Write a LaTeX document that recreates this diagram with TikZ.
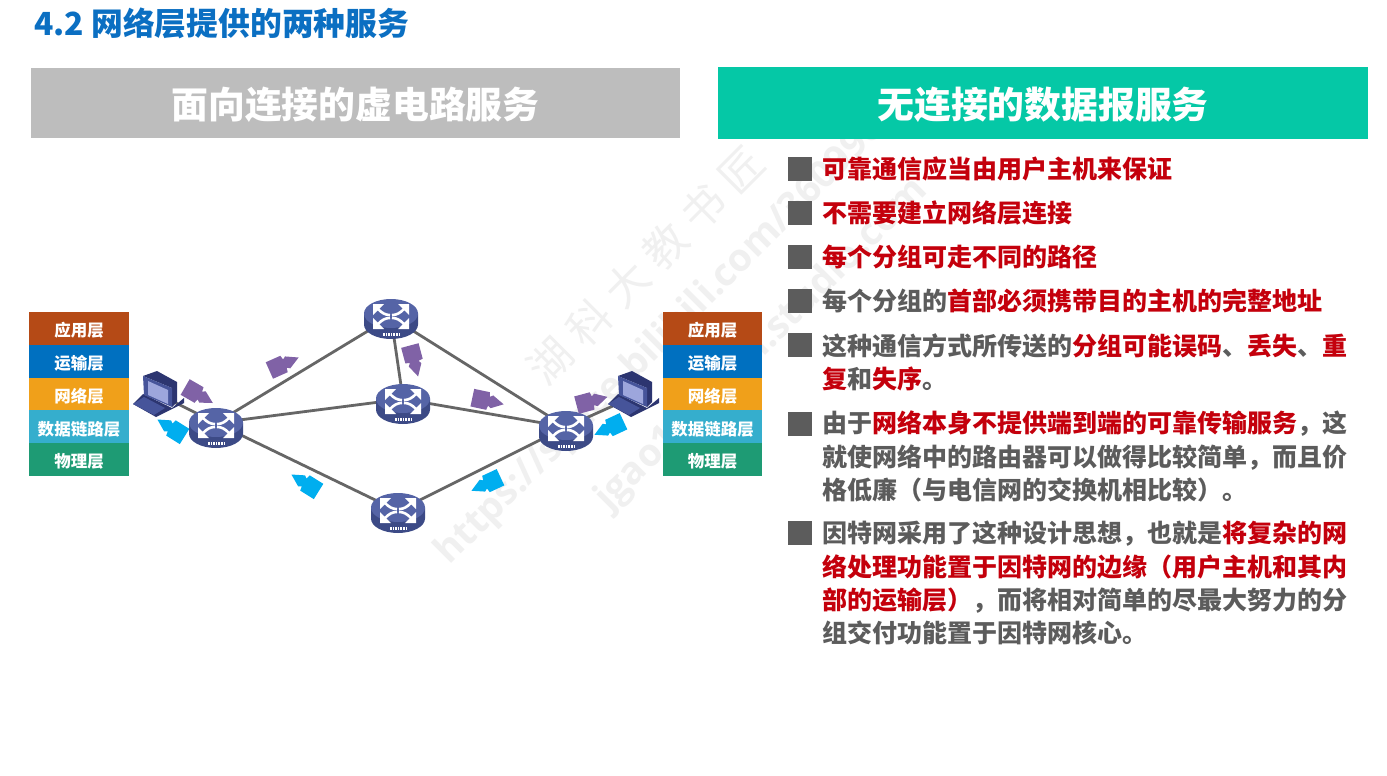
\documentclass[tikz,border=0pt]{standalone}
\usepackage{fontspec}
\setmainfont{Noto Sans CJK SC}
\newfontfamily\latinf{Open Sans}
\usetikzlibrary{calc,shapes.geometric}
\definecolor{titleblue}{HTML}{0B6FC2}
\definecolor{greybar}{HTML}{BDBDBD}
\definecolor{tealbar}{HTML}{05C8A6}
\definecolor{bodygrey}{HTML}{5C5C5C}
\definecolor{hotred}{HTML}{C4000C}
\definecolor{lA}{HTML}{B54A16}
\definecolor{lB}{HTML}{0070C0}
\definecolor{lC}{HTML}{F0A01A}
\definecolor{lD}{HTML}{35AECD}
\definecolor{lE}{HTML}{1E9B74}
\definecolor{routerT}{HTML}{5564A6}
\definecolor{routerS}{HTML}{3C4A86}
\definecolor{arrowP}{HTML}{8062A6}
\definecolor{arrowB}{HTML}{00AEEF}
\definecolor{linkg}{HTML}{666666}
\definecolor{pcdark}{HTML}{2C3570}
\definecolor{pcmid}{HTML}{46549A}
\definecolor{pcscr}{HTML}{9DA6DC}
\definecolor{wmgrey}{HTML}{F0F0F0}
\newcommand{\hot}[1]{\textcolor{hotred}{\textbf{#1}}}
\tikzset{
 x=1pt,y=-1pt,
 hdr/.style={minimum height=71pt,inner sep=0pt,text=white,text height=36pt,text depth=4.4pt,font=\fontsize{36.8}{36.8}\selectfont\bfseries,anchor=center},
 lay/.style={minimum width=99.5pt,minimum height=32.8pt,inner sep=0pt,text=white,text height=18.5pt,text depth=2pt,font=\fontsize{16.5}{16.5}\selectfont\bfseries,anchor=center},
 blt/.style={fill=bodygrey,minimum size=24pt,inner sep=0pt},
 bodyt/.style={anchor=north west,inner sep=0pt,text=bodygrey,font=\fontsize{25}{33.3}\selectfont\bfseries,align=left},
 link/.style={draw=linkg,line width=2.8pt},
 wm/.style={text=wmgrey,rotate=45,inner sep=0pt},
 joint/.style={minimum size=1pt,inner sep=0pt},
}
\newcommand{\cornerarrow}[1]{%
 \begin{scope}[#1]
  \fill[white] (18,-12.5) -- (18,-1.5) -- (7,-12.5) -- cycle;
  \draw[white,line width=2.6pt] (13,-7.5) .. controls (9,-3.5) and (6,-1.6) .. (1,-1.4);
 \end{scope}}
\newcommand{\routerx}[3]{%
 \node[ellipse,minimum width=54pt,minimum height=40pt,inner sep=0pt] (#1) at (#2,#3) {};
 \begin{scope}[shift={(#2,#3)}]
  \fill[routerS] (-27,-5.5) -- (-27,5.5) .. controls (-27,13.5) and (-15,20) .. (0,20) .. controls (15,20) and (27,13.5) .. (27,5.5) -- (27,-5.5) -- cycle;
  \fill[routerT] (0,-5.5) ellipse[x radius=27,y radius=14.5];
  \begin{scope}[yshift=2.5pt]
   \cornerarrow{}
   \cornerarrow{xscale=-1}
   \cornerarrow{yscale=-1}
   \cornerarrow{xscale=-1,yscale=-1}
  \end{scope}
  \draw[white,line width=2.4pt,dash pattern=on 1.6pt off 1pt] (-8,15.5) -- (8,15.5);
 \end{scope}}
\newcommand{\pcx}[2]{%
 \coordinate (#1) at (#2,0);
 \begin{scope}[xshift=#2 pt]
  \fill[pcdark] (143,394) -- (172,408) -- (184,398) -- (184,403) -- (156,417) -- (133,404) -- cycle;
  \fill[pcmid] (133,404) -- (144,397) -- (165,408) -- (154,415) -- cycle;
  \fill[pcdark] (143,376) -- (157,371) -- (177,382) -- (177,402) -- (172,407) -- (172,388) -- cycle;
  \fill[pcmid] (143,376) -- (172,388) -- (172,407) -- (144,395) -- cycle;
  \fill[pcscr] (148,381) -- (168,390) -- (168,404) -- (148,395) -- cycle;
 \end{scope}}
\newcommand{\pktx}[5]{%
 \coordinate (#1) at (#3,#4);
 \fill[#2,shift={(#3,#4)},rotate=#5] (-16,-9) -- (0,-9) -- (1,-4.5) -- (4,-6.5) -- (16,0) -- (4,6.5) -- (1,4.5) -- (0,9) -- (-16,9) -- cycle;}
\begin{document}
\begin{tikzpicture}
\useasboundingbox (0,0) rectangle (1387,776);
\fill[white] (0,0) rectangle (1387,776);
\node[wm,font=\fontsize{43}{43}\selectfont] (w1) at (646,265) {湖\hskip11pt科\hskip11pt大\hskip11pt教\hskip11pt书\hskip11pt匠};
\node[wm,font=\latinf\fontsize{38}{38}\selectfont\bfseries] (w2) at (684,318) {https://space.bilibili.com/360996402};
\node[wm,font=\latinf\fontsize{38}{38}\selectfont\bfseries] (w3) at (762,345) {jgao1.bilibili.studio.com};
\node[anchor=west,inner sep=0pt,text=titleblue,font=\fontsize{31.8}{31.8}\selectfont\bfseries] (title) at (34,23) {4.2 网络层提供的两种服务};
\node[hdr,fill=greybar,minimum width=649pt,minimum height=70pt] (hl) at (355.5,103) {面向连接的虚电路服务};
\node[hdr,fill=tealbar,minimum width=650pt,minimum height=72pt] (hr) at (1043,103) {无连接的数据报服务};
\foreach \n/\t/\c/\y in {a/应用层/lA/328.4,b/运输层/lB/361.2,c/网络层/lC/394,d/数据链路层/lD/426.8,e/物理层/lE/459.6}{
 \node[lay,fill=\c] (L\n) at (79,\y) {\t};
 \node[lay,fill=\c] (R\n) at (712.5,\y) {\t};
}
\node[joint] (r1) at (216,423) {};
\node[joint] (r2) at (391,317) {};
\node[joint] (r3) at (403,399) {};
\node[joint] (r4) at (566,427) {};
\node[joint] (r5) at (398,511) {};
\coordinate (pL) at (170,400);
\coordinate (pR) at (615,405);
\draw[link] (pL) -- (r1);
\draw[link] (pR) -- (r4);
\draw[link] (r1) -- (r2);
\draw[link] (r1) -- (r3);
\draw[link] (r1) -- (r5);
\draw[link] (r2) -- (r3);
\draw[link] (r2) -- (r4);
\draw[link] (r3) -- (r4);
\draw[link] (r5) -- (r4);
\routerx{R1}{216}{428}
\routerx{R2}{391}{319}
\routerx{R3}{403}{404}
\routerx{R4}{566}{431}
\routerx{R5}{398}{513}
\pcx{P1}{0}
\pcx{P2}{475}
\pktx{a1}{arrowP}{199}{395}{-30}
\pktx{a2}{arrowP}{284}{364}{24}
\pktx{a3}{arrowP}{414}{361}{-75}
\pktx{a4}{arrowP}{488}{401}{-12}
\pktx{a5}{arrowP}{592}{401}{15}
\pktx{b1}{arrowB}{171}{428}{148}
\pktx{b2}{arrowB}{305}{483}{148}
\pktx{b3}{arrowB}{486}{484}{205}
\pktx{b4}{arrowB}{609}{428}{205}
\foreach \n/\y in {1/169,2/213,3/257,4/301,5/345,6/423.5,7/533}{
 \node[blt] (B\n) at (799.5,\y) {};
}
\node[bodyt] (t1) at (822,157) {\hot{可靠通信应当由用户主机来保证}};
\node[bodyt] (t2) at (822,201) {\hot{不需要建立网络层连接}};
\node[bodyt] (t3) at (822,245) {\hot{每个分组可走不同的路径}};
\node[bodyt] (t4) at (822,289) {每个分组的\hot{首部必须携带目的主机的完整地址}};
\node[bodyt] (t5) at (822,333) {这种通信方式所传送的\hot{分组可能误码}、\hot{丢失}、\hot{重}\\\hot{复}和\hot{失序}。};
\node[bodyt] (t6) at (822,411) {由于\hot{网络本身不提供端到端的可靠传输服务}，这\\就使网络中的路由器可以做得比较简单，而且价\\格低廉（与电信网的交换机相比较）。};
\node[bodyt] (t7) at (822,521) {因特网采用了这种设计思想，也就是\hot{将复杂的网}\\\hot{络处理功能置于因特网的边缘（用户主机和其内}\\\hot{部的运输层）}，而将相对简单的尽最大努力的分\\组交付功能置于因特网核心。};
\end{tikzpicture}
\end{document}
